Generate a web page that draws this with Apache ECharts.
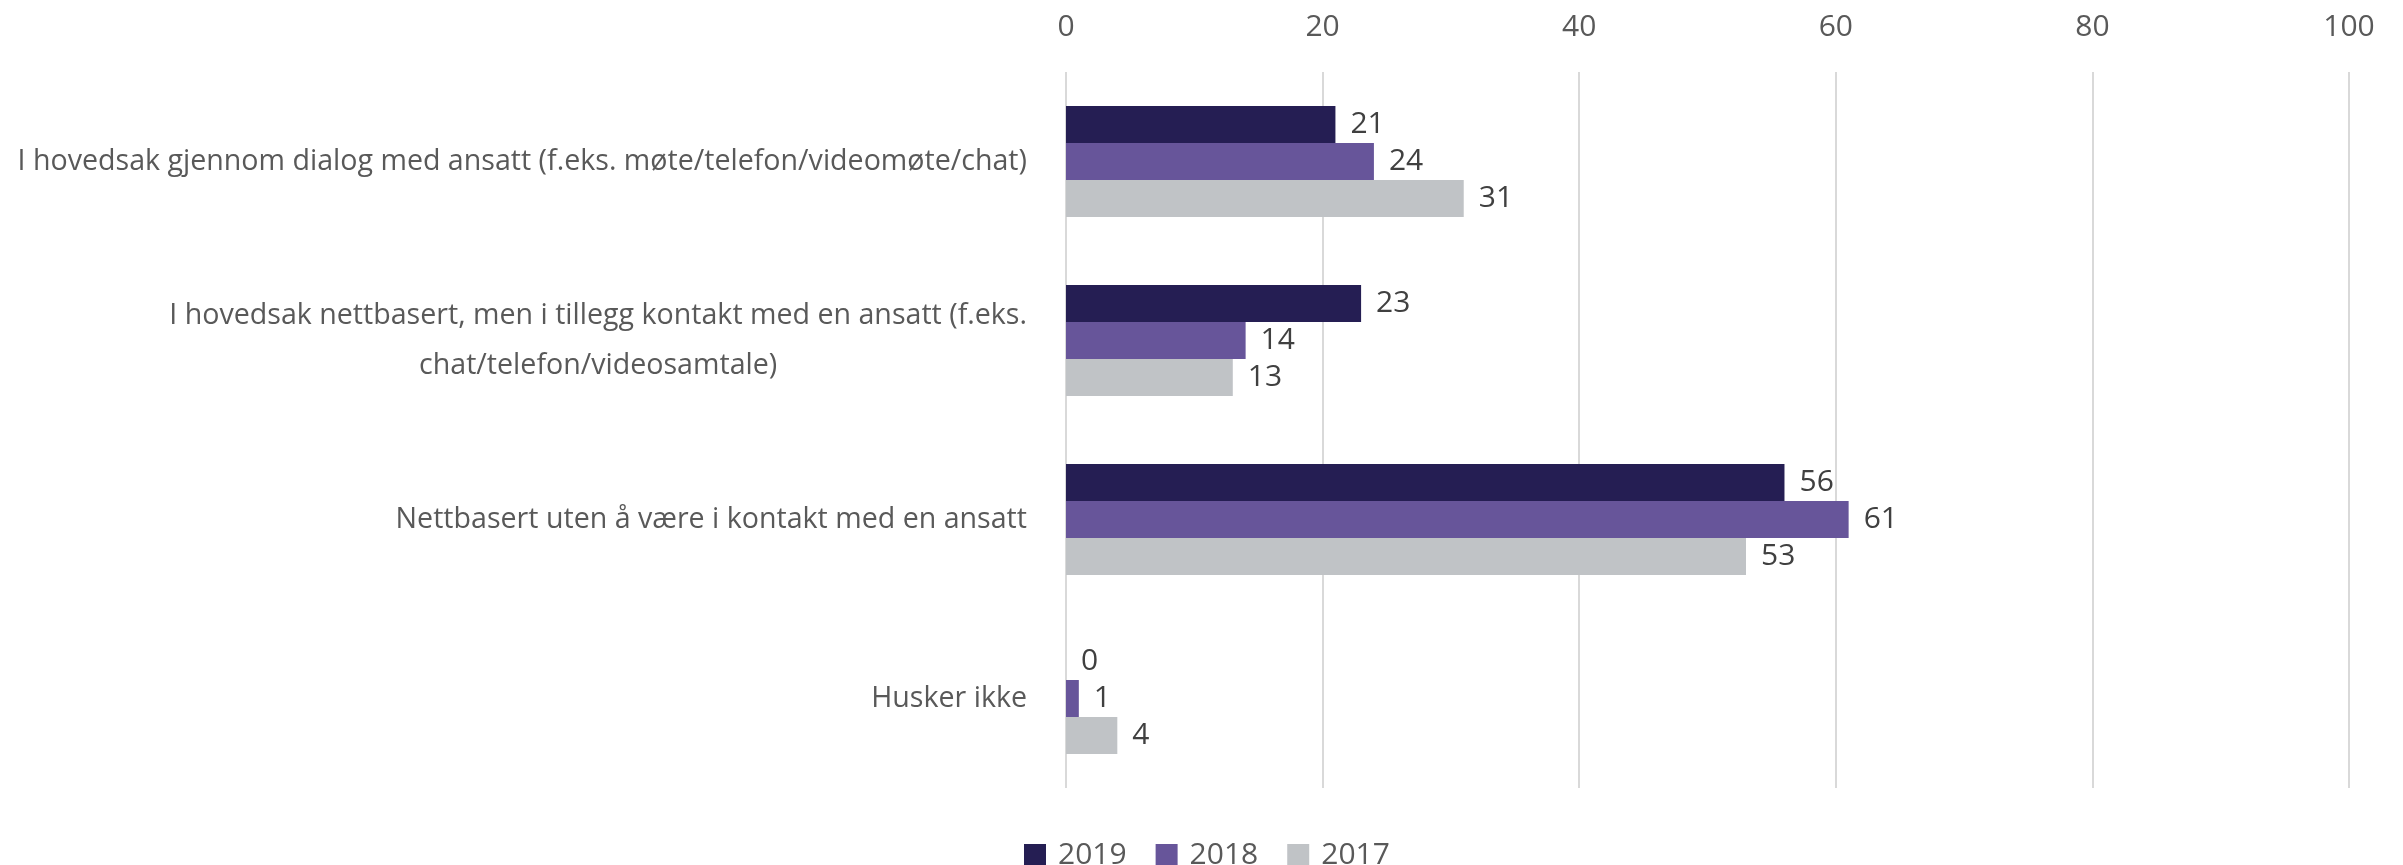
<!DOCTYPE html>
<html>
<head>
<meta charset="utf-8">
<script src="https://cdn.jsdelivr.net/npm/echarts@6/dist/echarts.min.js"></script>
<style>
html,body{margin:0;padding:0;background:#fff;}
#chart{width:2403px;height:865px;}
</style>
</head>
<body>
<div id="chart"></div>
<script>
const categories = [
  "I hovedsak gjennom dialog med ansatt (f.eks. møte/telefon/videomøte/chat)",
  "I hovedsak nettbasert, men i tillegg kontakt med en ansatt (f.eks.\nchat/telefon/videosamtale)",
  "Nettbasert uten å være i kontakt med en ansatt",
  "Husker ikke"
];
const seriesNames = ["2019", "2018", "2017"];
const values2019 = [21, 23, 56, 0];
const values2018 = [24, 14, 61, 1];
const values2017 = [31, 13, 53, 4];
const xTicks = [0, 20, 40, 60, 80, 100];

const colors = ["#251e53", "#67559a", "#c0c3c6"];
const FONT = "Open Sans";

const chart = echarts.init(document.getElementById('chart'), null, {renderer: 'canvas'});

function mkSeries(name, data, color) {
  return {
    name: name,
    type: 'bar',
    data: data,
    barGap: '0%',
    barCategoryGap: '38%',
    itemStyle: {color: color},
    label: {
      show: true,
      position: 'right',
      distance: 15,
      color: '#404040',
      fontFamily: FONT,
      fontSize: 30,
      padding: [4, 0, 0, 0]
    },
    animation: false
  };
}

chart.setOption({
  animation: false,
  textStyle: {fontFamily: FONT},
  grid: {left: 1066, right: 54, top: 72, bottom: 77, containLabel: false},
  xAxis: {
    type: 'value',
    position: 'top',
    min: xTicks[0],
    max: xTicks[xTicks.length - 1],
    interval: xTicks[1] - xTicks[0],
    axisLine: {show: false},
    axisTick: {show: false},
    axisLabel: {color: '#595959', fontSize: 30, fontFamily: FONT, margin: 30},
    splitLine: {show: true, lineStyle: {color: '#d9d9d9', width: 2}}
  },
  yAxis: {
    type: 'category',
    inverse: true,
    data: categories,
    axisLine: {show: false},
    axisTick: {show: false},
    axisLabel: {
      color: '#595959',
      fontSize: 28.6,
      fontFamily: FONT,
      margin: 39,
      lineHeight: 50,
      formatter: function (v) {
        return v.split('\n').map(function (l) { return '{c|' + l + '}'; }).join('\n');
      },
      rich: {c: {align: 'center', color: '#595959', fontSize: 28.6, fontFamily: FONT, lineHeight: 50}}
    }
  },
  legend: {
    data: seriesNames,
    top: 833,
    left: 1019,
    itemWidth: 22,
    itemHeight: 22,
    itemGap: 29,
    icon: 'rect',
    textStyle: {color: '#595959', fontSize: 30, fontFamily: FONT, lineHeight: 34, padding: [0, 0, 0, 7]}
  },
  series: [
    mkSeries(seriesNames[0], values2019, colors[0]),
    mkSeries(seriesNames[1], values2018, colors[1]),
    mkSeries(seriesNames[2], values2017, colors[2])
  ]
});
</script>
</body>
</html>
